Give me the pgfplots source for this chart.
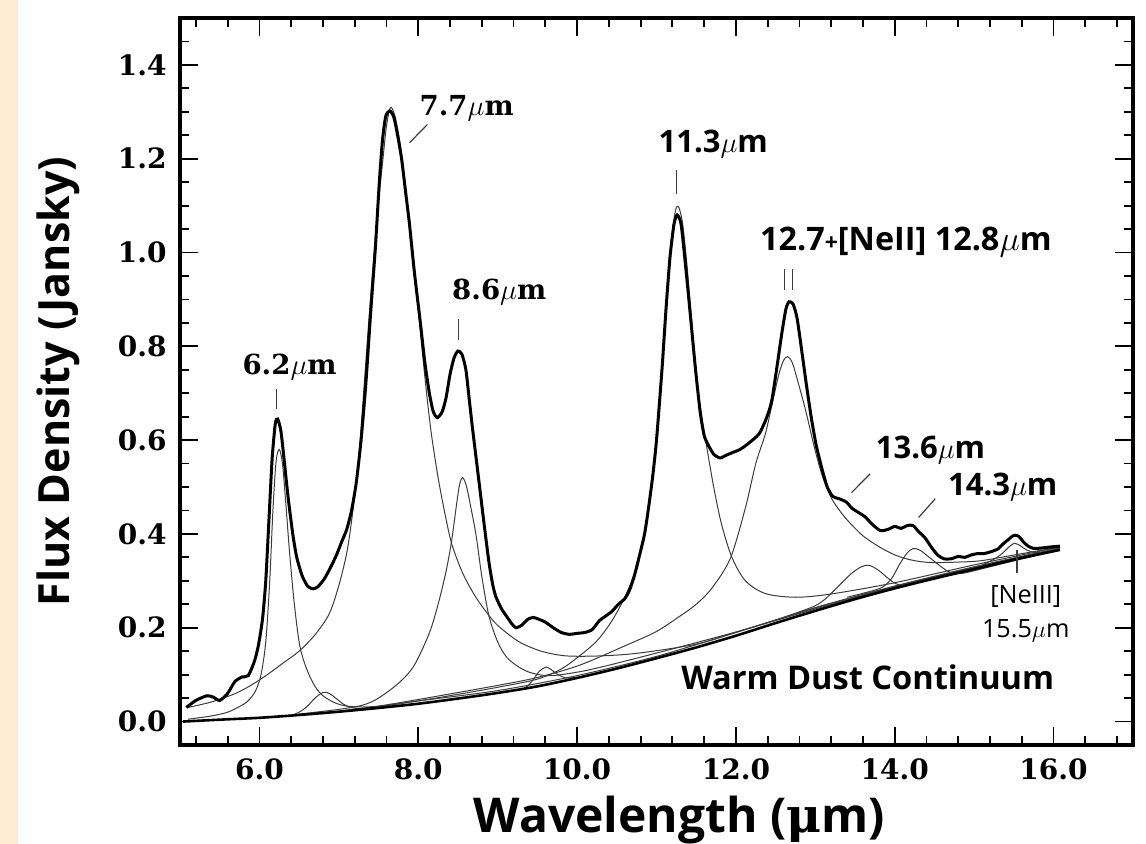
\documentclass[border=0pt]{standalone}
\usepackage{fontspec}
\usepackage{pgfplots}
\pgfplotsset{compat=1.18}
\newfontfamily\serifb{DejaVu Serif}
\newfontfamily\sansf{Open Sans}
\definecolor{beige}{RGB}{252,236,212}
\definecolor{thinc}{RGB}{60,60,60}
\newcommand\tickf{\serifb\bfseries\fontsize{14bp}{16bp}\selectfont}
\newcommand\annS{\serifb\bfseries\fontsize{13.8bp}{16bp}\selectfont}
\newcommand\annA{\sansf\bfseries\fontsize{15.5bp}{18bp}\selectfont}
\begin{document}
\begin{tikzpicture}
\begin{axis}[name=ax, width=476.5bp, height=363.5bp, scale only axis,
  xmin=5, xmax=17, ymin=-0.05, ymax=1.5, clip=false,
  xtick={6,8,10,12,14,16}, ytick={0,0.2,0.4,0.6,0.8,1.0,1.2,1.4},
  minor xtick={5.2,5.6,...,16.8}, minor ytick={0.05,0.1,...,1.45},
  tick align=inside, major tick length=9bp, minor tick length=4.5bp,
  every tick/.style={black, line width=0.9bp},
  axis line style={line width=1.6bp},
  /pgf/number format/fixed, /pgf/number format/fixed zerofill,
  /pgf/number format/precision=1, /pgf/number format/assume math mode=true,
  xticklabel style={font=\tickf, anchor=north, inner sep=0pt, yshift=-6.5bp},
  yticklabel style={font=\tickf, anchor=east, inner sep=0pt, xshift=-6.5bp},
  xlabel={Wavelength ({\serifb\bfseries μ}m)}, ylabel={Flux Density (Jansky)},
  every axis x label/.style={at={([yshift=-43.5bp]axis description cs:0.524,0)}, anchor=base, inner sep=0pt, font=\sansf\bfseries\fontsize{24bp}{28bp}\selectfont},
  every axis y label/.style={at={([xshift=-55bp]axis description cs:0,0.5)}, rotate=90, anchor=base, inner sep=0pt, font=\sansf\bfseries\fontsize{21.5bp}{26bp}\selectfont},
]
% components (thin)
\addplot[thinc, line width=0.5bp, smooth] coordinates {
(5.10,0.005)(5.40,0.012)(5.60,0.020)(5.75,0.032)(5.85,0.043)(5.95,0.065)(6.02,0.100)(6.08,0.170)(6.13,0.300)(6.17,0.450)(6.21,0.555)(6.25,0.580)(6.29,0.550)(6.33,0.470)(6.38,0.360)(6.44,0.250)(6.51,0.160)(6.60,0.110)(6.70,0.075)(6.80,0.055)(6.95,0.040)(7.10,0.033)(7.30,0.031)(7.60,0.034)(8.00,0.044)(9.00,0.066)(10.00,0.098)(11.00,0.139)(12.00,0.190)(13.00,0.242)(14.00,0.288)(15.00,0.329)(16.08,0.369)};
\addplot[thinc, line width=0.5bp, smooth] coordinates {
(6.40,0.013)(6.50,0.020)(6.60,0.032)(6.70,0.050)(6.80,0.062)(6.88,0.060)(6.96,0.050)(7.05,0.038)(7.15,0.030)(7.30,0.027)(7.50,0.029)};
\addplot[thinc, line width=0.5bp, smooth] coordinates {
(5.10,0.030)(5.40,0.042)(5.70,0.060)(5.90,0.078)(6.10,0.100)(6.30,0.125)(6.50,0.150)(6.70,0.185)(6.88,0.230)(7.00,0.290)(7.10,0.360)(7.17,0.440)(7.25,0.560)(7.32,0.720)(7.38,0.860)(7.44,0.990)(7.50,1.110)(7.55,1.190)(7.60,1.270)(7.65,1.309)(7.70,1.295)(7.75,1.255)(7.80,1.195)(7.86,1.110)(7.92,1.010)(8.00,0.880)(8.08,0.740)(8.16,0.620)(8.25,0.520)(8.34,0.440)(8.42,0.380)(8.55,0.320)(8.70,0.272)(8.85,0.235)(9.00,0.205)(9.27,0.170)(9.55,0.150)(9.86,0.140)(10.30,0.140)(10.78,0.146)(11.50,0.165)(12.00,0.190)(13.00,0.243)(14.00,0.289)(15.00,0.330)(16.08,0.370)};
\addplot[thinc, line width=0.5bp, smooth] coordinates {
(6.50,0.016)(7.00,0.026)(7.30,0.035)(7.50,0.050)(7.76,0.083)(7.95,0.120)(8.14,0.189)(8.25,0.250)(8.35,0.320)(8.42,0.385)(8.48,0.460)(8.52,0.505)(8.56,0.520)(8.61,0.500)(8.67,0.450)(8.73,0.395)(8.80,0.310)(8.89,0.225)(9.00,0.170)(9.11,0.138)(9.25,0.118)(9.40,0.105)(9.60,0.098)(9.80,0.100)(10.20,0.112)(11.00,0.146)(12.00,0.191)(13.00,0.240)(14.00,0.287)(15.00,0.328)(16.08,0.369)};
\addplot[thinc, line width=0.5bp, smooth] coordinates {
(9.30,0.068)(9.38,0.076)(9.45,0.090)(9.53,0.108)(9.61,0.116)(9.68,0.110)(9.76,0.100)(9.86,0.093)(10.00,0.094)};
\addplot[thinc, line width=0.5bp, smooth] coordinates {
(7.00,0.022)(7.50,0.032)(8.00,0.044)(8.50,0.058)(9.00,0.073)(9.49,0.090)(9.80,0.112)(10.03,0.140)(10.25,0.172)(10.44,0.215)(10.60,0.265)(10.72,0.315)(10.82,0.380)(10.92,0.480)(11.00,0.600)(11.07,0.760)(11.13,0.900)(11.19,1.030)(11.24,1.090)(11.28,1.097)(11.33,1.060)(11.38,0.980)(11.44,0.860)(11.50,0.740)(11.56,0.660)(11.62,0.598)(11.72,0.500)(11.82,0.420)(11.95,0.350)(12.12,0.300)(12.37,0.273)(12.75,0.265)(13.20,0.272)(14.00,0.296)(15.00,0.334)(16.08,0.372)};
\addplot[thinc, line width=0.5bp, smooth] coordinates {
(7.00,0.022)(7.50,0.033)(8.00,0.047)(9.00,0.077)(9.50,0.094)(10.03,0.120)(10.65,0.165)(11.00,0.192)(11.28,0.223)(11.50,0.250)(11.70,0.285)(11.93,0.348)(12.12,0.456)(12.25,0.550)(12.37,0.613)(12.46,0.680)(12.54,0.740)(12.60,0.770)(12.65,0.778)(12.71,0.765)(12.78,0.725)(12.88,0.662)(12.98,0.590)(13.08,0.528)(13.20,0.477)(13.35,0.440)(13.50,0.412)(13.63,0.392)(13.85,0.368)(14.05,0.352)(14.25,0.343)(14.46,0.339)(14.80,0.340)(15.09,0.343)(15.50,0.355)(16.08,0.372)};
\addplot[thinc, line width=0.5bp, smooth] coordinates {
(12.50,0.216)(12.80,0.234)(13.00,0.247)(13.13,0.262)(13.30,0.290)(13.45,0.315)(13.58,0.330)(13.68,0.333)(13.80,0.322)(13.92,0.305)(14.05,0.292)(14.30,0.298)(15.00,0.327)(16.08,0.368)};
\addplot[thinc, line width=0.5bp, smooth] coordinates {
(13.40,0.265)(13.70,0.278)(13.85,0.287)(13.96,0.305)(14.06,0.335)(14.15,0.358)(14.23,0.369)(14.32,0.365)(14.42,0.352)(14.51,0.340)(14.60,0.328)(14.70,0.318)(14.85,0.316)(15.20,0.330)(16.08,0.367)};
\addplot[thinc, line width=0.5bp, smooth] coordinates {
(15.10,0.334)(15.25,0.346)(15.35,0.358)(15.45,0.374)(15.51,0.380)(15.58,0.375)(15.66,0.366)(15.80,0.360)(16.08,0.368)};
% continuum
\addplot[black, line width=1.3bp, smooth] coordinates {
(5.04,0.000)(5.50,0.004)(6.00,0.008)(6.50,0.014)(7.00,0.021)(7.50,0.029)(8.00,0.038)(8.50,0.049)(9.00,0.061)(9.50,0.075)(10.00,0.093)(10.50,0.113)(11.00,0.135)(11.50,0.158)(12.00,0.183)(12.50,0.210)(13.00,0.236)(13.50,0.261)(14.00,0.284)(14.50,0.305)(15.00,0.325)(15.50,0.345)(16.08,0.366)};
% total spectrum
\addplot[black, line width=1.5bp, smooth, tension=0.4] coordinates {
(5.08,0.030)(5.20,0.045)(5.34,0.055)(5.42,0.052)(5.50,0.045)(5.60,0.060)(5.69,0.085)(5.78,0.095)(5.86,0.098)(5.94,0.130)(5.99,0.165)(6.04,0.220)(6.08,0.300)(6.12,0.430)(6.16,0.560)(6.20,0.635)(6.23,0.645)(6.27,0.620)(6.31,0.560)(6.36,0.480)(6.42,0.400)(6.47,0.350)(6.54,0.310)(6.61,0.288)(6.68,0.283)(6.74,0.288)(6.82,0.305)(6.90,0.330)(6.97,0.355)(7.04,0.385)(7.10,0.410)(7.16,0.450)(7.22,0.510)(7.28,0.600)(7.34,0.720)(7.40,0.870)(7.46,1.010)(7.51,1.150)(7.55,1.240)(7.59,1.290)(7.64,1.302)(7.69,1.290)(7.74,1.250)(7.79,1.200)(7.84,1.130)(7.89,1.060)(7.95,0.960)(8.02,0.860)(8.08,0.770)(8.14,0.700)(8.19,0.660)(8.24,0.648)(8.30,0.660)(8.35,0.690)(8.40,0.740)(8.45,0.775)(8.50,0.790)(8.55,0.783)(8.60,0.750)(8.64,0.690)(8.68,0.630)(8.73,0.560)(8.78,0.490)(8.83,0.420)(8.89,0.340)(8.94,0.290)(8.98,0.265)(9.05,0.240)(9.11,0.225)(9.18,0.208)(9.23,0.200)(9.30,0.205)(9.38,0.218)(9.45,0.222)(9.52,0.218)(9.60,0.212)(9.70,0.200)(9.80,0.190)(9.90,0.186)(10.00,0.188)(10.10,0.190)(10.19,0.196)(10.28,0.215)(10.36,0.225)(10.44,0.235)(10.52,0.250)(10.60,0.262)(10.66,0.280)(10.72,0.310)(10.78,0.350)(10.85,0.400)(10.90,0.456)(10.95,0.520)(11.00,0.600)(11.07,0.753)(11.12,0.880)(11.17,0.990)(11.22,1.060)(11.26,1.080)(11.31,1.060)(11.37,0.965)(11.43,0.860)(11.49,0.753)(11.55,0.660)(11.60,0.610)(11.65,0.590)(11.72,0.570)(11.80,0.562)(11.88,0.568)(11.95,0.573)(12.05,0.580)(12.15,0.592)(12.29,0.613)(12.38,0.645)(12.45,0.683)(12.52,0.760)(12.58,0.830)(12.63,0.880)(12.67,0.895)(12.72,0.890)(12.77,0.860)(12.83,0.789)(12.89,0.715)(12.95,0.647)(13.01,0.590)(13.08,0.541)(13.15,0.500)(13.22,0.480)(13.30,0.475)(13.39,0.468)(13.46,0.455)(13.55,0.445)(13.63,0.436)(13.72,0.420)(13.82,0.407)(13.92,0.410)(14.00,0.416)(14.08,0.412)(14.16,0.418)(14.23,0.418)(14.30,0.405)(14.38,0.392)(14.46,0.372)(14.54,0.355)(14.62,0.347)(14.71,0.347)(14.80,0.352)(14.88,0.350)(14.96,0.355)(15.04,0.358)(15.12,0.358)(15.21,0.362)(15.30,0.368)(15.36,0.378)(15.43,0.388)(15.50,0.397)(15.56,0.395)(15.62,0.383)(15.68,0.374)(15.75,0.369)(15.85,0.370)(15.95,0.372)(16.08,0.374)};
% annotation pointers
\draw[thinc, line width=0.6bp] (axis cs:6.22,0.710) -- (axis cs:6.22,0.666);
\draw[thinc, line width=0.6bp] (axis cs:8.115,1.273) -- (axis cs:7.89,1.234);
\draw[thinc, line width=0.6bp] (axis cs:8.505,0.859) -- (axis cs:8.505,0.814);
\draw[thinc, line width=0.6bp] (axis cs:11.256,1.175) -- (axis cs:11.256,1.124);
\draw[thinc, line width=0.6bp] (axis cs:12.613,0.965) -- (axis cs:12.613,0.920);
\draw[thinc, line width=0.6bp] (axis cs:12.714,0.965) -- (axis cs:12.714,0.920);
\draw[thinc, line width=0.6bp] (axis cs:13.69,0.528) -- (axis cs:13.455,0.488);
\draw[thinc, line width=0.6bp] (axis cs:14.51,0.475) -- (axis cs:14.30,0.435);
\draw[thinc, line width=0.6bp] (axis cs:15.54,0.365) -- (axis cs:15.54,0.316);
% annotation texts
\node[anchor=base, inner sep=0pt, font=\annS] at (axis cs:6.38,0.740) {6.2$\mu$m};
\node[anchor=base, inner sep=0pt, font=\annS] at (axis cs:8.61,1.292) {7.7$\mu$m};
\node[anchor=base, inner sep=0pt, font=\annS] at (axis cs:9.02,0.899) {8.6$\mu$m};
\node[anchor=base, inner sep=0pt, font=\annA] at (axis cs:11.715,1.213) {11.3$\mu$m};
\node[anchor=base, inner sep=0pt, font=\sansf\bfseries\fontsize{16.2bp}{19bp}\selectfont] at (axis cs:14.14,1.005) {12.7{\fontsize{11.5bp}{12bp}\selectfont+}[NeII] 12.8$\mu$m};
\node[anchor=base, inner sep=0pt, font=\annA] at (axis cs:14.45,0.560) {13.6$\mu$m};
\node[anchor=base, inner sep=0pt, font=\annA] at (axis cs:15.36,0.481) {14.3$\mu$m};
\node[anchor=base, inner sep=0pt, font=\sansf\fontsize{12.6bp}{15bp}\selectfont] at (axis cs:15.65,0.252) {[NeIII]};
\node[anchor=base, inner sep=0pt, font=\sansf\fontsize{12.6bp}{15bp}\selectfont] at (axis cs:15.65,0.180) {15.5$\mu$m};
\node[anchor=base, inner sep=0pt, font=\sansf\bfseries\fontsize{16.3bp}{19bp}\selectfont] at (axis cs:13.66,0.068) {Warm Dust Continuum};
\end{axis}
\fill[beige] ([shift={(-90bp,-49.5bp)}]ax.south west) rectangle ([shift={(-81bp,9bp)}]ax.north west);
\pgfresetboundingbox
\path ([shift={(-90bp,-49.5bp)}]ax.south west) rectangle ([shift={(6.5bp,9bp)}]ax.north east);
\end{tikzpicture}
\end{document}
